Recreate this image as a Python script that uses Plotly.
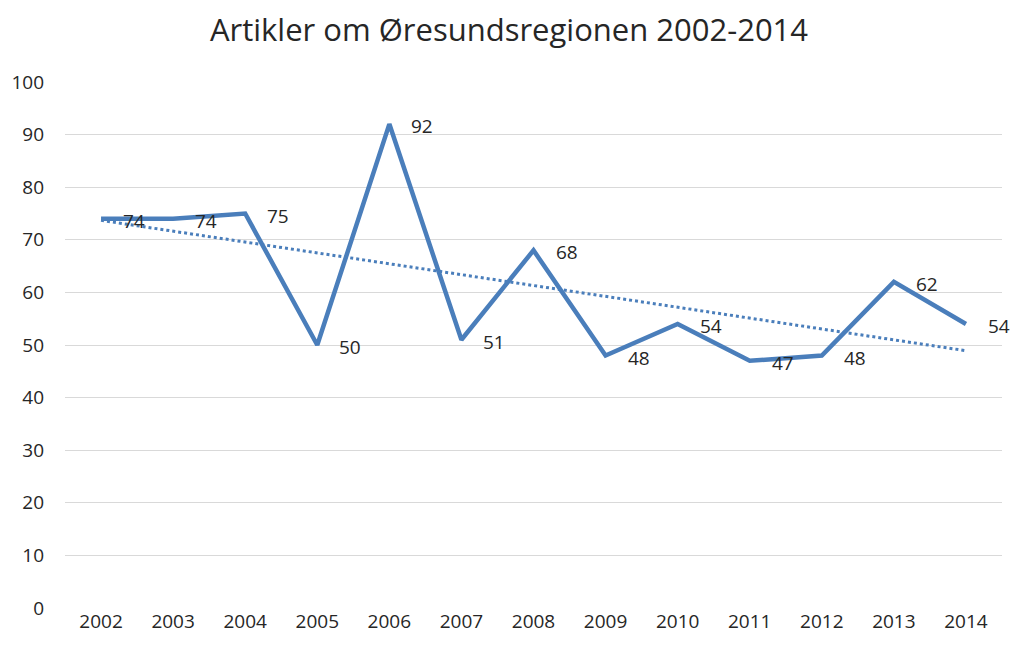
import numpy as np
import plotly.graph_objects as go

years = ["2002", "2003", "2004", "2005", "2006", "2007", "2008", "2009", "2010", "2011", "2012", "2013", "2014"]
articles = [74, 74, 75, 50, 92, 51, 68, 48, 54, 47, 48, 62, 54]
y_ticks = [0, 10, 20, 30, 40, 50, 60, 70, 80, 90, 100]

blue = "#4A7EBB"
text_color = "#262626"
font_family = "Open Sans, Liberation Sans, sans-serif"

idx = np.arange(len(years))
slope, intercept = np.polyfit(idx, articles, 1)
trend = intercept + slope * idx

fig = go.Figure()
fig.add_trace(go.Scatter(x=years, y=trend, mode="lines",
                         line=dict(color=blue, width=3, dash="dot"),
                         hoverinfo="skip", showlegend=False))
fig.add_trace(go.Scatter(x=years, y=articles, mode="lines",
                         line=dict(color=blue, width=4.5),
                         showlegend=False))

# data labels, placed to the right of each point
for i, v in enumerate(articles):
    fig.add_annotation(x=i, y=v, xref="x", yref="y", text=str(v), showarrow=False,
                       xanchor="left", yanchor="middle", xshift=20, yshift=-2,
                       font=dict(size=19, color=text_color, family=font_family))

fig.update_layout(
    width=1011, height=648,
    margin=dict(l=65, r=9, t=82, b=40),
    paper_bgcolor="white", plot_bgcolor="white",
    title=dict(text="Artikler om Øresundsregionen 2002-2014",
               x=509 / 1011, xanchor="center", y=1 - 30 / 648, yanchor="middle",
               yref="container",
               font=dict(size=31, color=text_color, family=font_family)),
    font=dict(family=font_family, color=text_color),
)
fig.update_xaxes(type="category", range=[-0.5, 12.5], showgrid=False,
                 showline=False, zeroline=False, ticks="",
                 tickfont=dict(size=19, color=text_color))
fig.update_yaxes(range=[0, 100], tickvals=y_ticks, showgrid=True,
                 gridcolor="#D9D9D9", gridwidth=1, zeroline=False,
                 showline=False, ticks="", ticklabelstandoff=20,
                 tickfont=dict(size=19, color=text_color))

fig.write_html("out.html", config={"displayModeBar": False},
               post_script="document.body.style.margin='0';document.body.style.overflow='hidden';")
